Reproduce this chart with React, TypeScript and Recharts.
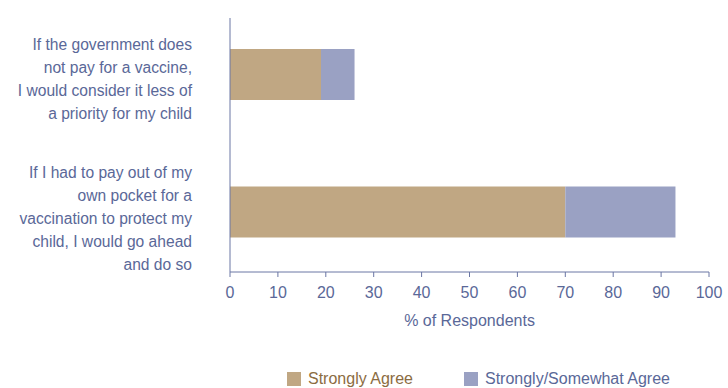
import React from 'react';
import { BarChart, Bar, XAxis, YAxis, Legend } from 'recharts';

const statements = [
    'If the government does not pay for a vaccine, I would consider it less of a priority for my child',
    'If I had to pay out of my own pocket for a vaccination to protect my child, I would go ahead and do so',
];
const statementLines = [
    ['If the government does', 'not pay for a vaccine,', 'I would consider it less of', 'a priority for my child'],
    ['If I had to pay out of my', 'own pocket for a', 'vaccination to protect my', 'child, I would go ahead', 'and do so'],
];
const stronglyAgree = [19, 70];
const somewhatAgree = [7, 23];
const xTicks = [0, 10, 20, 30, 40, 50, 60, 70, 80, 90, 100];
const frameTicks = [0, 1, 2];

const data = statements.map((statement, i) => ({
    statement,
    strong: stronglyAgree[i],
    somewhat: somewhatAgree[i],
}));

const FONT = "'Liberation Sans', Arial, sans-serif";
const TEXT = '#5a6898';
const AXIS = '#6a76a4';
const TAN = '#c0a783';
const SLATE = '#9aa1c3';

const series = [
    { key: 'strong', name: 'Strongly Agree', fill: TAN, text: '#8b6c42' },
    { key: 'somewhat', name: 'Strongly/Somewhat Agree', fill: SLATE, text: TEXT },
];

function StatementTick({ x, y, index }: any) {
    const lines = statementLines[index] || [];
    const lh = 23;
    const top = y + 4 + index * 2 - ((lines.length - 1) * lh) / 2;
    return (
        <text x={x} y={top} textAnchor="end" fill={TEXT} fontSize={15.6} fontFamily={FONT}>
            {lines.map((line, i) => (
                <tspan key={i} x={x} y={top + i * lh} dy="0.35em">
                    {line}
                </tspan>
            ))}
        </text>
    );
}

function LegendRow() {
    return (
        <div
            style={{
                height: 58,
                boxSizing: 'border-box',
                paddingTop: 40,
                paddingLeft: 287,
                display: 'flex',
                alignItems: 'center',
                fontFamily: FONT,
                fontSize: 16,
                whiteSpace: 'nowrap',
            }}
        >
            {series.map((s, i) => (
                <div key={s.key} style={{ display: 'flex', alignItems: 'center', marginLeft: i ? 51 : 0 }}>
                    <span style={{ width: 14, height: 14, background: s.fill, marginRight: 7, flexShrink: 0 }} />
                    <span style={{ color: s.text, lineHeight: '18px' }}>{s.name}</span>
                </div>
            ))}
        </div>
    );
}

export default function App() {
    return (
        <div style={{ position: 'absolute', left: 0, top: 0, width: 728, height: 388, background: '#fff' }}>
            <BarChart
                width={728}
                height={388}
                data={data}
                layout="vertical"
                margin={{ top: 18, right: 19, left: 0, bottom: 0 }}
            >
                {/* thin axis next to the plot that carries the left spine and the band-edge ticks */}
                <YAxis
                    yAxisId="a"
                    type="number"
                    domain={[0, 2]}
                    ticks={frameTicks}
                    interval={0}
                    allowDataOverflow
                    width={1}
                    tick={false}
                    tickSize={4}
                    stroke={AXIS}
                    axisLine={{ stroke: AXIS }}
                    tickLine={{ stroke: AXIS }}
                />
                <YAxis
                    yAxisId="b"
                    type="category"
                    dataKey="statement"
                    width={229}
                    axisLine={false}
                    tickLine={false}
                    tickSize={0}
                    tickMargin={37}
                    padding={{ top: -12, bottom: -9 }}
                    tick={<StatementTick />}
                    interval={0}
                />
                <XAxis
                    type="number"
                    domain={[0, 100]}
                    ticks={xTicks}
                    interval={0}
                    height={58}
                    tickSize={5}
                    tickMargin={10}
                    stroke={AXIS}
                    tick={{ fill: TEXT, fontSize: 16, fontFamily: FONT }}
                    label={{ value: '% of Respondents', position: 'insideBottom', offset: 4, fill: TEXT, fontSize: 16, fontFamily: FONT }}
                />
                <Legend verticalAlign="bottom" content={<LegendRow />} />
                {series.map((s) => (
                    <Bar
                        key={s.key}
                        yAxisId="b"
                        dataKey={s.key}
                        name={s.name}
                        stackId="agree"
                        fill={s.fill}
                        barSize={51}
                        isAnimationActive={false}
                    />
                ))}
            </BarChart>
        </div>
    );
}
